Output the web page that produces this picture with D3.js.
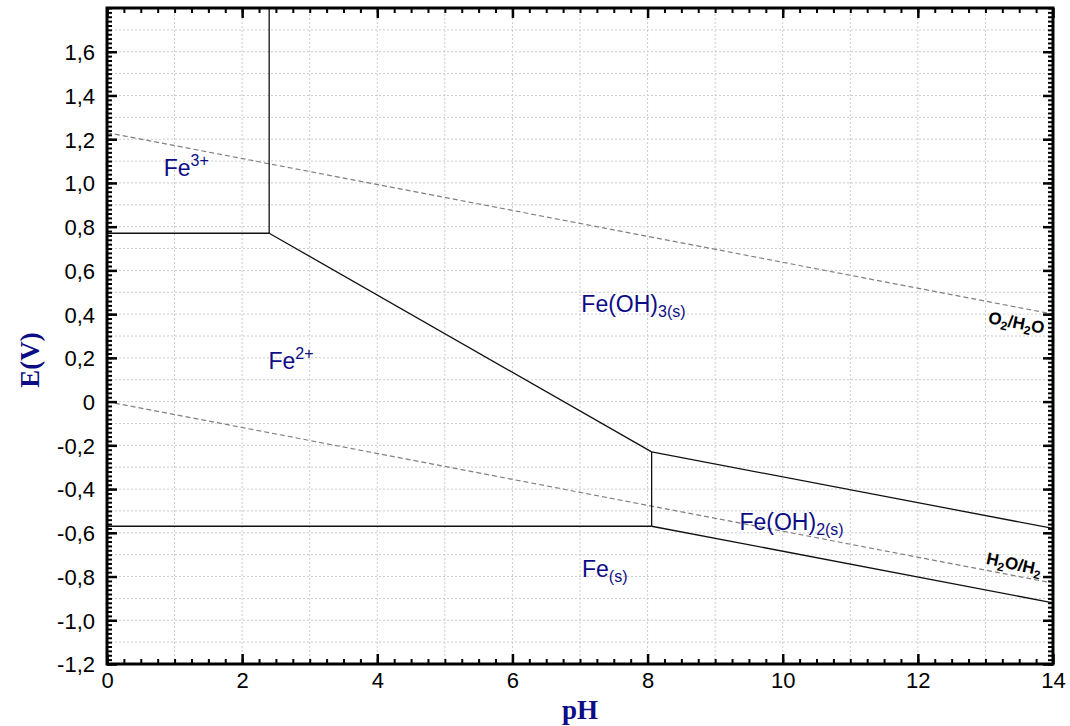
<!DOCTYPE html>
<html>
<head>
<meta charset="utf-8">
<script src="https://cdn.jsdelivr.net/npm/d3@7"></script>
<style>
  body { margin: 0; background: #fff; }
  svg text { font-family: "Liberation Sans", Arial, sans-serif; }
</style>
</head>
<body>
<div id="chart"></div>
<script>
// Pourbaix diagram for iron: boundaries as [pH, E] pairs
var fe3Fe2 = [[0, 0.77], [2.4, 0.77]];
var fe3Oh3 = [[2.4, 0.77], [2.4, 1.8]];
var fe2Oh3 = [[2.4, 0.77], [8.06, -0.23]];
var fe2Oh2 = [[8.06, -0.23], [8.06, -0.57]];
var fe2Fe = [[0, -0.57], [8.06, -0.57]];
var oh3Oh2 = [[8.06, -0.23], [14, -0.58]];
var oh2Fe = [[8.06, -0.57], [14, -0.92]];
var o2H2o = [[0, 1.23], [14, 0.40]];
var h2oH2 = [[0, 0], [14, -0.83]];

var xTicks = [0, 2, 4, 6, 8, 10, 12, 14];
var yTicks = [-1.2, -1.0, -0.8, -0.6, -0.4, -0.2, 0, 0.2, 0.4, 0.6, 0.8, 1.0, 1.2, 1.4, 1.6];

// region labels: main text, sub/superscript, kind, pH, E
var regionNames = ["Fe", "Fe", "Fe(OH)", "Fe(OH)", "Fe"];
var regionIdx = ["3+", "2+", "3(s)", "2(s)", "(s)"];
var regionKind = ["sup", "sup", "sub", "sub", "sub"];
var regionPH = [0.84, 2.39, 7.02, 9.36, 7.03];
var regionE = [1.03, 0.15, 0.41, -0.585, -0.80];

var width = 1070,
    height = 726;

var x = d3.scaleLinear().domain([0, 14]).range([107, 1053]);
var y = d3.scaleLinear().domain([-1.2, 1.8]).range([664, 8]);

var svg = d3.select("#chart").append("svg")
    .attr("width", width)
    .attr("height", height);

var navy = "#0c0c86";

// grid
var grid = svg.append("g")
    .attr("stroke", "#cccccc")
    .attr("stroke-width", 1)
    .attr("stroke-dasharray", "2,2");

grid.selectAll(".gx")
    .data(d3.range(1, 14))
  .enter().append("line")
    .attr("x1", function(d) { return x(d); })
    .attr("x2", function(d) { return x(d); })
    .attr("y1", y(-1.2))
    .attr("y2", y(1.8));

grid.selectAll(".gy")
    .data(d3.range(-11, 18).map(function(d) { return d / 10; }))
  .enter().append("line")
    .attr("x1", x(0))
    .attr("x2", x(14))
    .attr("y1", function(d) { return y(d); })
    .attr("y2", function(d) { return y(d); });

var line = d3.line()
    .x(function(d) { return x(d[0]); })
    .y(function(d) { return y(d[1]); });

// water stability lines
[o2H2o, h2oH2].forEach(function(pts) {
    svg.append("path")
        .attr("d", line(pts))
        .attr("fill", "none")
        .attr("stroke", "#808080")
        .attr("stroke-width", 1.2)
        .attr("stroke-dasharray", "5,3");
});

// phase boundaries
[fe3Fe2, fe3Oh3, fe2Oh3, fe2Oh2, fe2Fe, oh3Oh2, oh2Fe].forEach(function(pts) {
    svg.append("path")
        .attr("d", line(pts))
        .attr("fill", "none")
        .attr("stroke", "#111")
        .attr("stroke-width", 1.3);
});

// axes with inward ticks
var fmtY = function(d) {
    if (Math.abs(d) < 1e-9) return "0";
    return d3.format(".1f")(d).replace(".", ",").replace("\u2212", "-");
};

var minorX = d3.range(0, 56).map(function(d) { return d / 4; });
var minorY = d3.range(-60, 91).map(function(d) { return d / 50; });

function axisGroup(axis, tx, ty, sw) {
    var g = svg.append("g")
        .attr("transform", "translate(" + tx + "," + ty + ")")
        .call(axis);
    g.select(".domain").remove();
    g.selectAll(".tick line").attr("stroke", "#000").attr("stroke-width", sw);
    return g;
}

axisGroup(d3.axisBottom(x).tickValues(minorX).tickSizeInner(-5).tickFormat(""), 0, y(-1.2), 2);
axisGroup(d3.axisTop(x).tickValues(minorX).tickSizeInner(-5).tickFormat(""), 0, y(1.8), 2);
axisGroup(d3.axisLeft(y).tickValues(minorY).tickSizeInner(-5).tickFormat(""), x(0), 0, 2);
axisGroup(d3.axisRight(y).tickValues(minorY).tickSizeInner(-5).tickFormat(""), x(14), 0, 2);

var xb = axisGroup(d3.axisBottom(x).tickValues(xTicks).tickSizeInner(-10).tickPadding(9).tickFormat(d3.format("d")), 0, y(-1.2), 2.5);
axisGroup(d3.axisTop(x).tickValues(xTicks).tickSizeInner(-10).tickFormat(""), 0, y(1.8), 2.5);
var yl = axisGroup(d3.axisLeft(y).tickValues(yTicks).tickSizeInner(-10).tickPadding(12).tickFormat(fmtY), x(0), 0, 2.5);
axisGroup(d3.axisRight(y).tickValues(yTicks).tickSizeInner(-10).tickFormat(""), x(14), 0, 2.5);

svg.selectAll(".tick text")
    .attr("font-family", "Liberation Sans, Arial, sans-serif")
    .attr("font-size", 22)
    .attr("fill", "#000");

yl.selectAll(".tick text").attr("dy", "0.36em");
xb.selectAll(".tick text").attr("dy", "0.7em");

// frame
svg.append("rect")
    .attr("x", x(0))
    .attr("y", y(1.8))
    .attr("width", x(14) - x(0))
    .attr("height", y(-1.2) - y(1.8))
    .attr("fill", "none")
    .attr("stroke", "#000")
    .attr("stroke-width", 3);

// region labels
regionNames.forEach(function(name, i) {
    var t = svg.append("text")
        .attr("x", x(regionPH[i]))
        .attr("y", y(regionE[i]))
        .attr("fill", navy)
        .attr("font-size", 23);
    t.append("tspan").text(name);
    t.append("tspan")
        .attr("font-size", 16)
        .attr("dy", regionKind[i] == "sup" ? -10 : 5)
        .text(regionIdx[i]);
});

// water line labels
function couple(parts, ph, e, angle) {
    var t = svg.append("text")
        .attr("transform", "translate(" + x(ph) + "," + y(e) + ") rotate(" + angle + ")")
        .attr("font-weight", "bold")
        .attr("fill", "#000");
    var shift = 0;
    parts.forEach(function(p) {
        var dy = (p[1] ? 4 : 0) - shift;
        shift = p[1] ? 4 : 0;
        t.append("tspan")
            .attr("dy", dy)
            .attr("font-size", p[1] ? 12 : 17)
            .text(p[0]);
    });
}

couple([["O", 0], ["2", 1], ["/H", 0], ["2", 1], ["O", 0]], 13.03, 0.36, 11);
couple([["H", 0], ["2", 1], ["O/H", 0], ["2", 1]], 13.0, -0.742, 12);

// axis titles
svg.append("text")
    .attr("x", 580)
    .attr("y", 719)
    .attr("text-anchor", "middle")
    .style("font-family", "Liberation Serif, Times New Roman, serif")
    .attr("font-weight", "bold")
    .attr("font-size", 27)
    .attr("fill", navy)
    .text("pH");

svg.append("text")
    .attr("transform", "translate(39,360) rotate(-90)")
    .attr("text-anchor", "middle")
    .style("font-family", "Liberation Serif, Times New Roman, serif")
    .attr("font-weight", "bold")
    .attr("font-size", 27)
    .attr("fill", navy)
    .text("E(V)");
</script>
</body>
</html>
